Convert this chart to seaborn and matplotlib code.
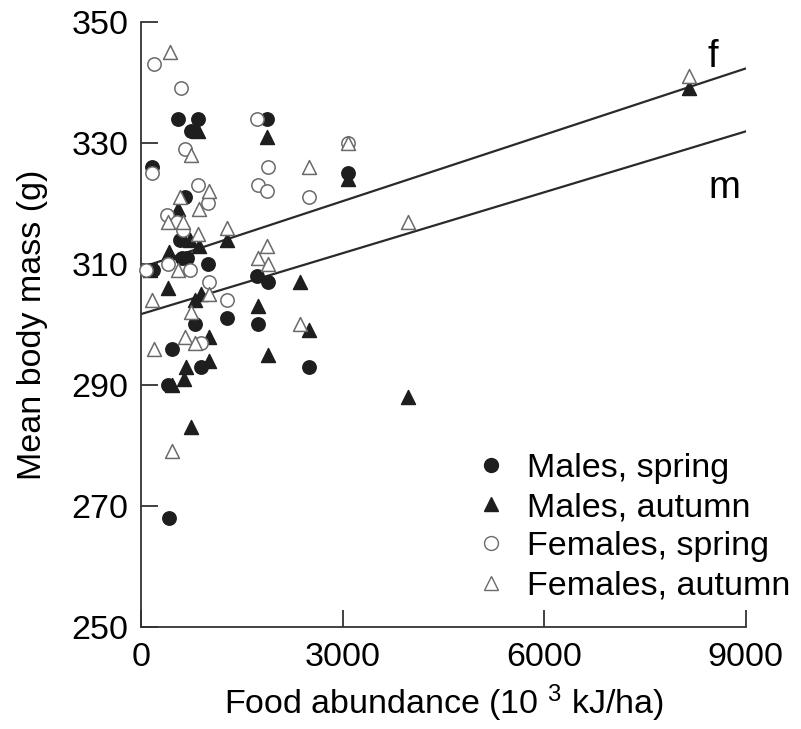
import matplotlib
matplotlib.use("Agg")
import matplotlib.pyplot as plt
import seaborn as sns
import pandas as pd
from matplotlib.lines import Line2D

# ---------------- data ----------------
ms_x = [555, 850, 750, 1870, 160, 650, 580, 605, 680, 1000, 185, 1720, 1895, 1275, 800, 1745, 455, 890, 2500, 405, 420, 3085]
ms_y = [334, 334, 332, 334, 326, 321, 314, 311, 311, 310, 309, 308, 307, 301, 300, 300, 296, 293, 293, 290, 268, 325]

ma_x = [850, 1870, 555, 1275, 730, 870, 420, 135, 400, 890, 800, 1745, 2365, 2500, 1010, 1895, 1010, 670, 640, 455, 745, 3970, 3085, 8150]
ma_y = [332, 331, 319, 314, 314, 313, 312, 309, 306, 305, 304, 303, 307, 299, 298, 295, 294, 293, 291, 290, 283, 288, 324, 339]

fs_x = [190, 590, 1720, 650, 160, 1890, 850, 1745, 1870, 2500, 1000, 380, 530, 630, 405, 80, 730, 1010, 1275, 900, 3085]
fs_y = [343, 339, 334, 329, 325, 326, 323, 323, 322, 321, 320, 318, 317, 315.6, 310, 309, 309, 307, 304, 297, 330]

fa_x = [430, 740, 2500, 1010, 580, 860, 405, 630, 850, 1275, 555, 1870, 1745, 1895, 1010, 160, 745, 2365, 655, 800, 195, 455, 3085, 3970, 8150]
fa_y = [345, 328, 326, 322, 321, 319, 317, 317, 315, 316, 309, 313, 311, 310, 305, 304, 302, 300, 298, 297, 296, 279, 330, 317, 341]

group_labels = ["Males, spring", "Males, autumn", "Females, spring", "Females, autumn"]

line_x = [0, 9000]
f_line_y = [309.4, 342.3]
m_line_y = [301.7, 331.9]
line_names = ["f", "m"]

x_ticks = [0, 3000, 6000, 9000]
y_ticks = [250, 270, 290, 310, 330, 350]

# ---------------- style ----------------
sns.set_style("ticks")
plt.rcParams["font.family"] = ["Liberation Sans", "DejaVu Sans"]
plt.rcParams["mathtext.fontset"] = "custom"
plt.rcParams["mathtext.rm"] = "Liberation Sans"
plt.rcParams["mathtext.it"] = "Liberation Sans"
plt.rcParams["mathtext.bf"] = "Liberation Sans"
plt.rcParams["text.color"] = "black"
plt.rcParams["axes.labelcolor"] = "black"

FS = 24.5

fig = plt.figure(figsize=(8.01, 7.29), dpi=100)
ax = fig.add_axes([0.176, 0.140, 0.755, 0.830])

dark = "#1e1e1e"
grey = "#6a6a6a"

groups = [
    (ms_x, ms_y, "o", dark, dark, 92),
    (ma_x, ma_y, "^", dark, dark, 100),
    (fs_x, fs_y, "o", "white", grey, 92),
    (fa_x, fa_y, "^", "white", grey, 100),
]

# regression lines
for ly, name in zip([f_line_y, m_line_y], line_names):
    df_l = pd.DataFrame({"x": line_x, "y": ly})
    sns.lineplot(data=df_l, x="x", y="y", ax=ax, color="#2a2a2a", lw=1.6, zorder=2)

for (xs, ys, mk, fc, ec, s), lab in zip(groups, group_labels):
    df = pd.DataFrame({"x": xs, "y": ys})
    sns.scatterplot(data=df, x="x", y="y", ax=ax, marker=mk, s=s,
                    color=fc, edgecolor=ec, linewidth=1.1, zorder=3, clip_on=False)

ax.set_xlim(0, 9000)
ax.set_ylim(250, 350)
ax.set_xticks(x_ticks)
ax.set_yticks(y_ticks)
ax.set_xticklabels([str(v) for v in x_ticks])
ax.set_yticklabels([str(v) for v in y_ticks])
sns.despine(ax=ax)
for sp in ["left", "bottom"]:
    ax.spines[sp].set_linewidth(1.3)
    ax.spines[sp].set_color("#333333")
ax.tick_params(direction="in", length=12, width=1.3, colors="#333333",
               labelcolor="black", labelsize=FS)
ax.tick_params(axis="x", pad=11)
ax.tick_params(axis="y", pad=9)

ax.set_xlabel("Food abundance (10 $^{3}$ kJ/ha)", fontsize=FS, labelpad=7)
ax.set_ylabel("Mean body mass (g)", fontsize=FS, labelpad=17)

ax.text(8508, 342.6, "f", fontsize=27.5, ha="center", va="baseline", color="black")
ax.text(8681, 320.9, "m", fontsize=27.5, ha="center", va="baseline", color="black")

handles = [
    Line2D([], [], ls="none", marker="o", markersize=10, markerfacecolor=dark, markeredgecolor=dark),
    Line2D([], [], ls="none", marker="^", markersize=10, markerfacecolor=dark, markeredgecolor=dark),
    Line2D([], [], ls="none", marker="o", markersize=10, markerfacecolor="white", markeredgecolor=grey),
    Line2D([], [], ls="none", marker="^", markersize=10, markerfacecolor="white", markeredgecolor=grey),
]
leg = ax.legend(handles, group_labels, loc="upper left", bbox_to_anchor=(0.579, 0.402),
                bbox_transform=fig.transFigure, frameon=False, fontsize=FS,
                handlelength=0.6, handletextpad=0.75, labelspacing=0.24, borderpad=0)
for t in leg.get_texts():
    t.set_color("black")

fig.savefig("out.png", dpi=100)
